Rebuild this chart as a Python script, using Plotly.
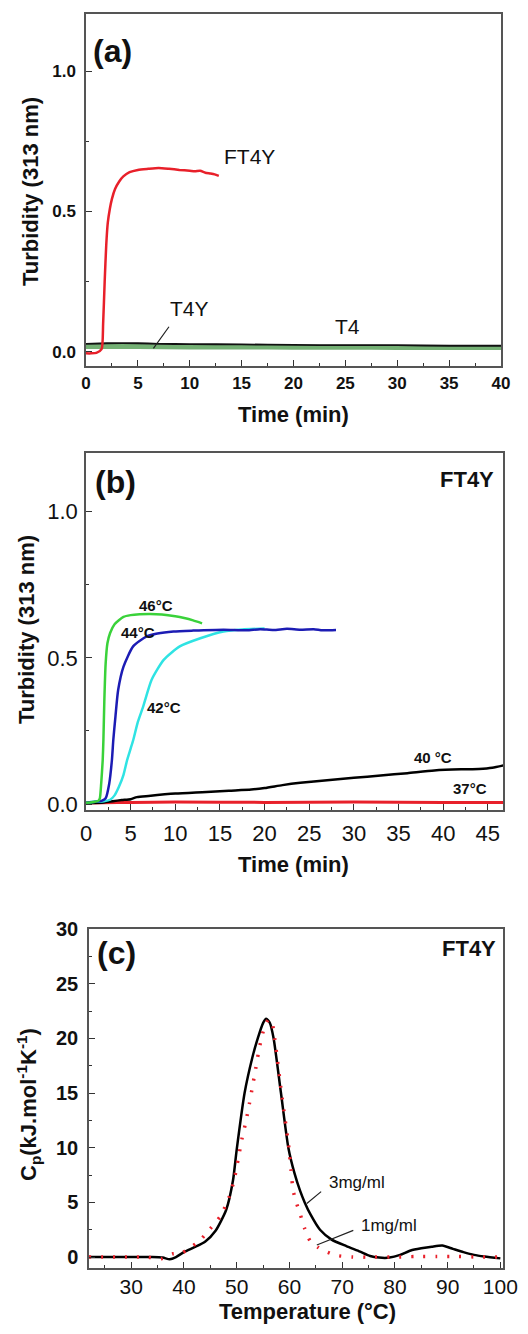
import plotly.graph_objects as go

W, H = 528, 1334
OFF = 8          # page body margin of the html page
FW, FH = W - OFF, H - OFF - 6
FONT = "Liberation Sans"

# ---------------- Panel (a) data ----------------
a_ft4y_t = [0, 0.5, 1.0, 1.5, 1.65, 1.8, 1.95, 2.1, 2.3, 2.5, 2.8, 3.2, 3.6, 4.2, 5.0, 6.0, 7.0, 8.0, 9.0, 10.0, 10.5, 11.0, 11.5, 12.0, 12.4, 12.8]
a_ft4y_v = [-0.005, -0.005, -0.003, 0.01, 0.1, 0.25, 0.38, 0.46, 0.51, 0.545, 0.58, 0.607, 0.625, 0.64, 0.648, 0.652, 0.655, 0.652, 0.648, 0.645, 0.643, 0.645, 0.638, 0.635, 0.632, 0.627]
a_t4y_t = [0, 2, 5, 7, 10, 15, 20, 25, 30, 35, 40]
a_t4y_v = [0.029, 0.031, 0.031, 0.029, 0.028, 0.027, 0.025, 0.024, 0.024, 0.022, 0.022]
a_t4_t = [0, 5, 10, 15, 20, 25, 30, 35, 40]
a_t4_v = [0.019, 0.019, 0.018, 0.018, 0.017, 0.017, 0.016, 0.016, 0.016]

# ---------------- Panel (b) data ----------------
b46_t = [0, 0.5, 1.0, 1.4, 1.55, 1.7, 1.87, 1.95, 2.05, 2.2, 2.4, 2.7, 3.2, 4.2, 5.0, 6.0, 7.2, 8.5, 10.0, 11.0, 12.0, 13.0]
b46_v = [0.005, 0.006, 0.008, 0.012, 0.02, 0.07, 0.15, 0.22, 0.35, 0.48, 0.55, 0.585, 0.615, 0.64, 0.646, 0.649, 0.65, 0.648, 0.642, 0.636, 0.628, 0.618]
b44_t = [0, 1.0, 1.8, 2.2, 2.6, 2.9, 3.06, 3.3, 3.6, 4.2, 5.3, 6.8, 8.0, 9.8, 12.0, 15.4, 18.0, 19.5, 21.0, 22.5, 24.0, 25.5, 26.5, 28.0]
b44_v = [0.005, 0.008, 0.012, 0.02, 0.07, 0.15, 0.22, 0.3, 0.39, 0.47, 0.54, 0.573, 0.583, 0.59, 0.593, 0.596, 0.594, 0.598, 0.595, 0.599, 0.596, 0.598, 0.594, 0.595]
b42_t = [0, 1.0, 2.0, 2.7, 3.2, 3.7, 4.2, 4.6, 5.0, 5.3, 5.8, 6.4, 7.35, 8.7, 10.5, 12.8, 15.4, 17.5, 20.0]
b42_v = [0.005, 0.008, 0.01, 0.015, 0.03, 0.06, 0.1, 0.15, 0.19, 0.22, 0.28, 0.333, 0.425, 0.493, 0.539, 0.567, 0.59, 0.597, 0.6]
b40_t = [0, 2, 3, 4, 5, 5.7, 7, 10, 13, 16, 18.5, 20, 22, 24, 27, 30, 33, 36, 39, 42, 44, 45.5, 47]
b40_v = [0.004, 0.006, 0.01, 0.014, 0.017, 0.024, 0.028, 0.036, 0.041, 0.046, 0.05, 0.055, 0.065, 0.073, 0.082, 0.09, 0.098, 0.106, 0.115, 0.119, 0.12, 0.124, 0.134]
b37_t = [0, 2, 5, 10, 20, 30, 40, 47]
b37_v = [0.004, 0.005, 0.006, 0.007, 0.006, 0.007, 0.006, 0.006]

# ---------------- Panel (c) data ----------------
c3_T = [22, 26, 30, 34, 36, 37.3, 38.5, 40, 42, 44, 46, 48, 49.3, 50, 51.5, 53, 54, 55, 55.6, 56.3, 57, 58.4, 59.8, 61, 62, 62.9, 64, 65.8, 68, 70.8, 73.4, 75.3, 77, 79, 81, 83, 85, 87, 89, 91, 93, 95, 97, 100]
c3_v = [0, 0, 0, 0, -0.05, -0.2, 0.0, 0.45, 0.9, 1.4, 2.4, 4.3, 7.0, 9.8, 15.0, 18.3, 20.0, 21.4, 21.8, 21.4, 20.0, 15.0, 10.0, 7.6, 6.1, 5.0, 3.9, 2.5, 1.6, 1.0, 0.5, 0.1, -0.05, -0.05, 0.2, 0.6, 0.8, 0.95, 1.05, 0.75, 0.45, 0.2, 0.05, -0.12]
c1_T = [22, 25, 28, 31, 33, 35.7, 37.9, 39.5, 41, 43, 45, 47, 48.5, 49.5, 50.3, 51.0, 51.8, 52.4, 53.0, 53.6, 54.1, 54.6, 55.2, 56.0, 56.6, 57.2, 58.5, 59.9, 60.3, 60.7, 61.3, 62.0, 62.9, 63.9, 65.4, 66.7, 68.9, 72, 76, 80, 84, 88, 92, 96, 100]
c1_v = [0, 0, 0, 0, 0, -0.15, 0.3, 0.35, 0.8, 1.5, 2.6, 3.8, 5.4, 7.0, 9.0, 10.8, 12.5, 14.0, 15.6, 17.2, 18.6, 19.8, 20.9, 21.7, 21.6, 20.0, 15.0, 10.0, 8.0, 6.1, 5.0, 4.0, 2.6, 1.5, 0.9, 0.55, 0.15, 0.0, 0.0, 0.0, 0.05, 0.05, 0.05, 0.0, 0.0]

RED = "#e8202a"
GREEN46 = "#3ad23a"
BLUE = "#1c1cb4"
CYAN = "#2fe3e3"
T4GREEN = "rgba(70,150,70,0.75)"


def xd(left, right):
    return [(left - OFF) / FW, (right - OFF) / FW]


def yd(top, bottom):
    return [1 - (bottom - OFF) / FH, 1 - (top - OFF) / FH]


def px(x):
    return (x - OFF) / FW


def py(y):
    return 1 - (y - OFF) / FH


fig = go.Figure()


def line(x, y, xa, ya, color, width, dash=None, shape="spline"):
    fig.add_trace(go.Scatter(x=x, y=y, xaxis=xa, yaxis=ya, mode="lines",
                             line=dict(color=color, width=width, dash=dash, shape=shape, smoothing=0.6),
                             hoverinfo="skip", showlegend=False))


# panel (a)
line(a_t4_t, a_t4_v, "x", "y", T4GREEN, 5)
line(a_t4y_t, a_t4y_v, "x", "y", "#111111", 1.8)
line(a_ft4y_t, a_ft4y_v, "x", "y", RED, 2.5)

# panel (b)
line(b37_t, b37_v, "x2", "y2", RED, 3)
line(b40_t, b40_v, "x2", "y2", "#000000", 2.5)
line(b42_t, b42_v, "x2", "y2", CYAN, 2.5)
line(b44_t, b44_v, "x2", "y2", BLUE, 2.5)
line(b46_t, b46_v, "x2", "y2", GREEN46, 2.5)

# panel (c)
line(c3_T, c3_v, "x3", "y3", "#000000", 2.5)
line(c1_T, c1_v, "x3", "y3", RED, 3.5, dash="2px,10px")

AX = dict(showline=True, linecolor="#555555", linewidth=1.5, mirror=True,
          ticks="inside", ticklen=6, tickwidth=1.3, tickcolor="#333333",
          showgrid=False, zeroline=False, automargin=False,
          tickfont=dict(family=FONT, color="#111111"))


def ax(**kw):
    d = dict(AX)
    d.update(kw)
    return d


fig.update_layout(
    width=FW, height=FH, margin=dict(l=0, r=0, t=0, b=0),
    paper_bgcolor="white", plot_bgcolor="white", showlegend=False,
    font=dict(family=FONT, color="#111111"),
    xaxis=ax(domain=xd(86, 501), range=[0, 40], dtick=5, tick0=0, anchor="y",
             minor=dict(dtick=2.5, ticks="inside", ticklen=3, tickcolor="#333333"),
             tickfont=dict(family=FONT, size=17, weight="bold", color="#111111"),
             ticklabelstandoff=1),
    yaxis=ax(domain=yd(14, 366), range=[-0.05, 1.203], dtick=0.5, tick0=0, tickformat=".1f", anchor="x",
             minor=dict(dtick=0.25, ticks="inside", ticklen=3, tickcolor="#333333"),
             tickfont=dict(family=FONT, size=17, weight="bold", color="#111111"),
             ticklabelstandoff=5),
    xaxis2=ax(domain=xd(86, 503), range=[0, 46.7], dtick=5, tick0=0, anchor="y2",
              minor=dict(dtick=2.5, ticks="inside", ticklen=3, tickcolor="#333333"),
              tickfont=dict(family=FONT, size=22, color="#111111"),
              ticklabelstandoff=3),
    yaxis2=ax(domain=yd(453, 810), range=[-0.02, 1.2], dtick=0.5, tick0=0, tickformat=".1f", anchor="x2",
              minor=dict(dtick=0.25, ticks="inside", ticklen=3, tickcolor="#333333"),
              tickfont=dict(family=FONT, size=22, color="#111111"),
              ticklabelstandoff=2),
    xaxis3=ax(domain=xd(89, 503), range=[22, 100.5], dtick=10, tick0=0, anchor="y3",
              minor=dict(dtick=5, ticks="inside", ticklen=3, tickcolor="#333333"),
              tickfont=dict(family=FONT, size=21, color="#111111"),
              ticklabelstandoff=-1),
    yaxis3=ax(domain=yd(929, 1268), range=[-1, 30], dtick=5, tick0=0, anchor="x3",
              minor=dict(dtick=2.5, ticks="inside", ticklen=3, tickcolor="#333333"),
              tickfont=dict(family=FONT, size=20, weight="bold", color="#111111"),
              ticklabelstandoff=5),
)

ann = []


def label(text, x, y, xref, yref, size, bold=False, xanchor="center"):
    ann.append(dict(text=text, x=x, y=y, xref=xref, yref=yref, showarrow=False,
                    xanchor=xanchor, yanchor="middle",
                    font=dict(family=FONT, size=size, color="#111111", weight="bold" if bold else "normal")))


def pointer(x0, y0, x1, y1, xref, yref):
    ann.append(dict(x=x1, y=y1, ax=x0, ay=y0, xref=xref, yref=yref, axref=xref, ayref=yref,
                    text="", showarrow=True, arrowhead=0, arrowwidth=1.2, arrowcolor="#222222"))


def atitle(text, xpix, ypix, size, angle=0):
    ann.append(dict(text=text, x=px(xpix), y=py(ypix), xref="paper", yref="paper", showarrow=False,
                    xanchor="center", yanchor="middle", textangle=angle,
                    font=dict(family=FONT, size=size, color="#111111", weight="bold")))


atitle("Time (min)", 293, 414, 22)
atitle("Turbidity (313 nm)", 30, 192, 22, -90)
atitle("Time (min)", 293, 864, 22)
atitle("Turbidity (313 nm)", 26, 630, 22, -90)
atitle("Temperature (°C)", 307, 1311, 22)
atitle("C<sub>p</sub>(kJ.mol<sup>-1</sup>K<sup>-1</sup>)", 28, 1105, 22, -90)

# panel (a) labels
label("(a)", 2.6, 1.073, "x", "y", 32, bold=True)
label("FT4Y", 15.8, 0.695, "x", "y", 21)
label("T4Y", 10.0, 0.155, "x", "y", 21)
label("T4", 25.2, 0.092, "x", "y", 21)
pointer(8.1, 0.095, 6.5, 0.013, "x", "y")

# panel (b) labels
label("(b)", 3.25, 1.10, "x2", "y2", 32, bold=True)
label("FT4Y", 45.9, 1.11, "x2", "y2", 22, bold=True, xanchor="right")
label("46°C", 7.8, 0.678, "x2", "y2", 15, bold=True)
label("44°C", 5.8, 0.586, "x2", "y2", 15, bold=True)
label("42°C", 8.7, 0.329, "x2", "y2", 15, bold=True)
label("40 °C", 38.9, 0.158, "x2", "y2", 15, bold=True)
label("37°C", 43.0, 0.055, "x2", "y2", 15, bold=True)

# panel (c) labels
label("(c)", 27.2, 27.8, "x3", "y3", 32, bold=True)
label("FT4Y", 99.5, 28.2, "x3", "y3", 22, bold=True, xanchor="right")
label("3mg/ml", 72.9, 6.8, "x3", "y3", 17)
label("1mg/ml", 78.8, 2.9, "x3", "y3", 17)
pointer(66.3, 6.1, 63.3, 4.9, "x3", "y3")
pointer(72.4, 2.5, 65.2, 1.1, "x3", "y3")

fig.update_layout(annotations=ann)
fig.write_html("out.html")
